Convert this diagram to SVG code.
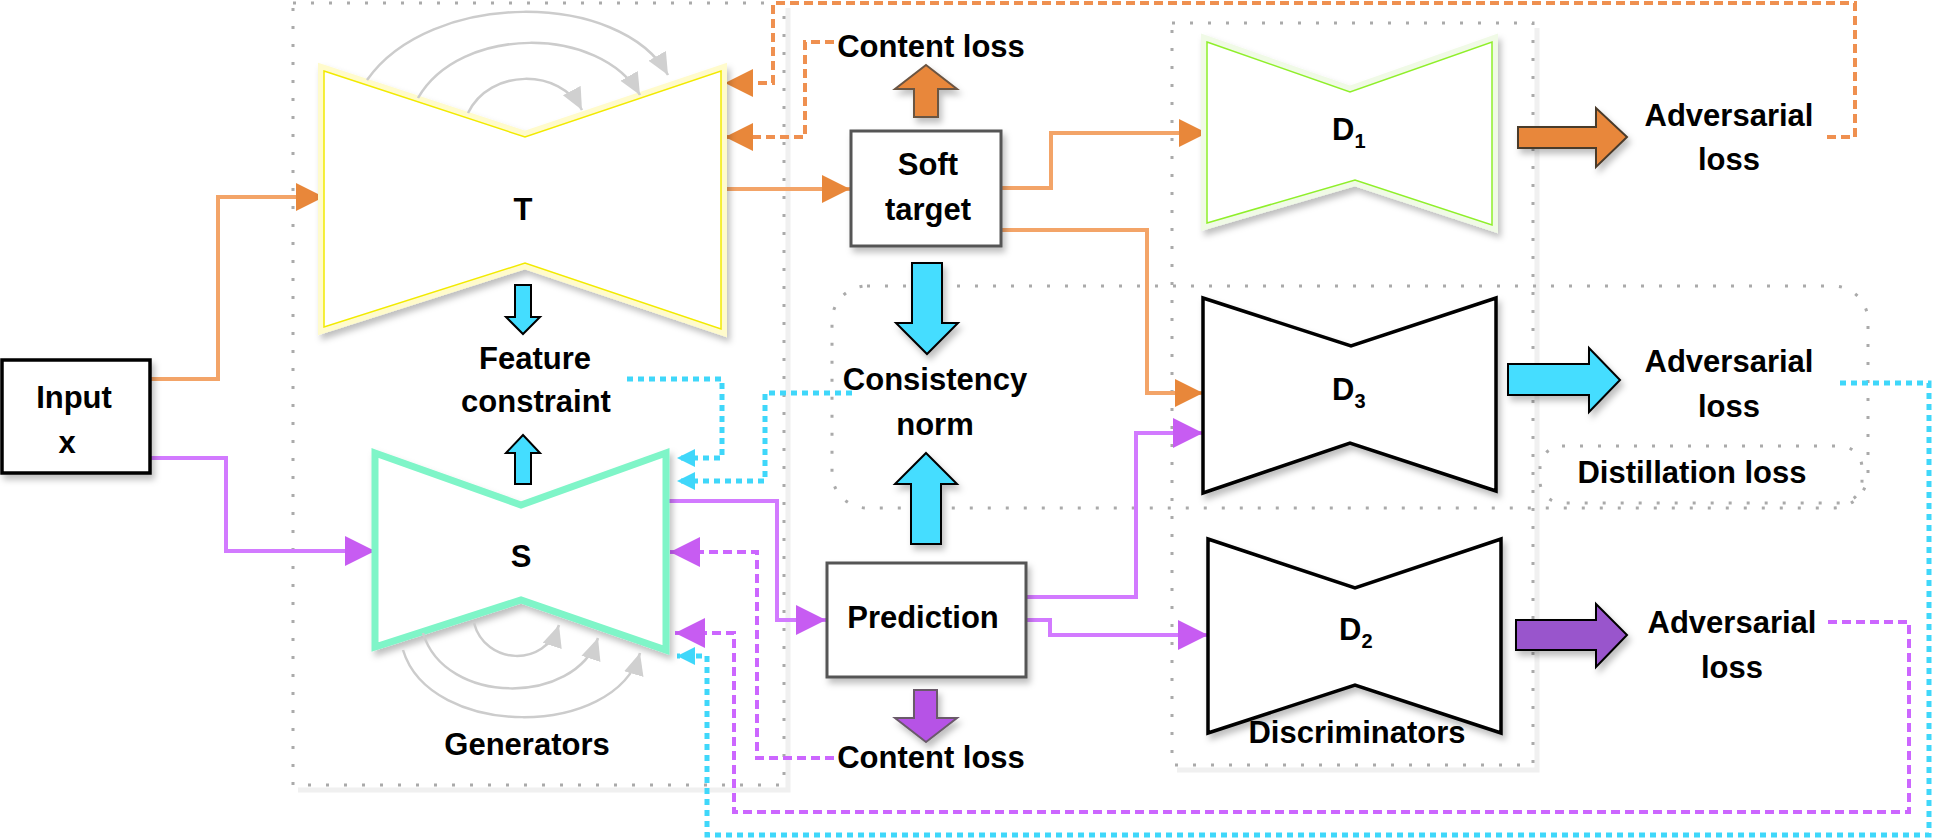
<svg xmlns="http://www.w3.org/2000/svg" width="1933" height="840" viewBox="0 0 1933 840">
<defs>
<style>
.t{font-family:"Liberation Sans",Arial,sans-serif;font-weight:bold;font-size:31px;fill:#000;text-anchor:middle}
.ts{text-anchor:start}
.grp{fill:none;stroke:#aaaaaa;stroke-width:3;stroke-dasharray:3 15}
.grpsh{fill:none;stroke:#f0f0f0;stroke-width:5}
.or{fill:none;stroke:#f3a468;stroke-width:4}
.pu{fill:none;stroke:#d27aff;stroke-width:4}
.ord{fill:none;stroke:#ef9050;stroke-width:4;stroke-dasharray:9 5}
.pud{fill:none;stroke:#cc66ff;stroke-width:4;stroke-dasharray:9 5}
.cyd{fill:none;stroke:#3fd7fa;stroke-width:5;stroke-dasharray:6 5}
.arc{fill:none;stroke:#cccccc;stroke-width:2.5}
.box{fill:#fff;stroke:#555;stroke-width:3}
.disc{fill:#fff;stroke:#000;stroke-width:3.5;stroke-linejoin:miter}
.cyb{fill:#44ddff;stroke:#000;stroke-width:2}
</style>
<filter id="sh" x="-10%" y="-10%" width="130%" height="130%">
<feDropShadow dx="3" dy="5" stdDeviation="3" flood-color="#000" flood-opacity="0.25"/>
</filter>
<marker id="aO" markerUnits="userSpaceOnUse" markerWidth="30" markerHeight="30" refX="28" refY="14" orient="auto"><path d="M0,0 L28,14 L0,28 Z" fill="#e8873a"/></marker>
<marker id="aP" markerUnits="userSpaceOnUse" markerWidth="32" markerHeight="32" refX="30" refY="15" orient="auto"><path d="M0,0 L30,15 L0,30 Z" fill="#c75cf2"/></marker>
<marker id="aC" markerUnits="userSpaceOnUse" markerWidth="20" markerHeight="20" refX="18" refY="9" orient="auto"><path d="M0,0 L18,9 L0,18 Z" fill="#3fd7fa"/></marker>
<marker id="aG" markerUnits="userSpaceOnUse" markerWidth="24" markerHeight="24" refX="22" refY="10" orient="auto"><path d="M0,0 L22,10 L0,20 Z" fill="#d0d0d0"/></marker>
</defs>
<rect width="1933" height="840" fill="#fff"/>

<g id="group-boxes">
<path class="grpsh" d="M788,8 V790 H298"/>
<rect class="grp" x="293" y="3" width="491" height="782"/>
<path class="grpsh" d="M1537,28 V770 H1177"/>
<rect class="grp" x="1172" y="23" width="361" height="742"/>
<rect class="grp" x="832" y="286" width="1036" height="222" rx="35"/>
<rect class="grp" x="1540" y="446" width="322" height="57" rx="22"/>
</g>

<g id="connectors">
<path class="or" d="M150,379 H218 V197 H324" marker-end="url(#aO)"/>
<path class="pu" d="M150,458 H226 V551 H375" marker-end="url(#aP)"/>
<path class="or" d="M721,189 H850" marker-end="url(#aO)"/>
<path class="or" d="M1001,188 H1051 V133 H1207" marker-end="url(#aO)"/>
<path class="or" d="M1001,230 H1147 V393 H1203" marker-end="url(#aO)"/>
<path class="pu" d="M667,501 H777 V620 H826" marker-end="url(#aP)"/>
<path class="pu" d="M1026,597 H1136 V433 H1203" marker-end="url(#aP)"/>
<path class="pu" d="M1026,620 H1050 V635 H1208" marker-end="url(#aP)"/>
<path class="ord" d="M1827,137 H1855 V3 H773 V83 H725" marker-end="url(#aO)"/>
<path class="ord" d="M834,42 H805 V137 H725" marker-end="url(#aO)"/>
<path class="cyd" d="M627,379 H722 V458 H677" marker-end="url(#aC)"/>
<path class="cyd" d="M852,393 H765 V481 H677" marker-end="url(#aC)"/>
<path class="cyd" d="M1840,383 H1929 V835 H707 V656 H677" marker-end="url(#aC)"/>
<path class="pud" d="M834,758 H757 V552 H670" marker-end="url(#aP)"/>
<path class="pud" d="M1828,622 H1909 V812 H734 V633 H675" marker-end="url(#aP)"/>
</g>

<g id="node-input">
<rect x="2" y="360" width="148" height="113" fill="#fff" stroke="#000" stroke-width="3.5" filter="url(#sh)"/>
<text class="t" x="74" y="408">Input</text>
<text class="t" x="67" y="453">x</text>
</g>

<g id="node-T">
<polygon points="324,71 525,137 721,71 721,329 525,263 324,327" fill="#fff" stroke="#fffbcc" stroke-width="12" filter="url(#sh)"/>
<polygon points="324,71 525,137 721,71 721,329 525,263 324,327" fill="#fff" stroke="#f2ea00" stroke-width="1.5"/>
<path class="arc" d="M367,80 C430,-10 620,-10 668,75" marker-end="url(#aG)"/>
<path class="arc" d="M418,98 C460,25 600,25 640,95" marker-end="url(#aG)"/>
<path class="arc" d="M468,113 C490,68 560,68 582,110" marker-end="url(#aG)"/>
<text class="t" x="523" y="220">T</text>
</g>

<g id="node-feature">
<polygon class="cyb" points="515,285 531,285 531,317 540,317 523,334 506,317 515,317"/>
<text class="t" x="535" y="369">Feature</text>
<text class="t" x="536" y="412">constraint</text>
<polygon class="cyb" points="523,435 540,453 531,453 531,484 515,484 515,453 506,453"/>
</g>

<g id="node-S">
<polygon points="375,453 521,505 666,453 666,650 521,600 375,647" fill="#fff" stroke="#7ff5c8" stroke-width="7" filter="url(#sh)"/>
<path class="arc" d="M474,623 C485,665 545,668 559,625" marker-end="url(#aG)"/>
<path class="arc" d="M423,633 C445,706 575,706 598,638" marker-end="url(#aG)"/>
<path class="arc" d="M403,650 C430,739 615,739 640,653" marker-end="url(#aG)"/>
<text class="t" x="521" y="567">S</text>
<text class="t" x="527" y="755">Generators</text>
</g>

<g id="node-soft-target">
<polygon points="926,65 957,89 938,89 938,117 914,117 914,89 895,89" fill="#e8873a" stroke="#6b5443" stroke-width="2" filter="url(#sh)"/>
<text class="t" x="931" y="57">Content loss</text>
<rect class="box" x="851" y="131" width="150" height="115" filter="url(#sh)"/>
<text class="t" x="928" y="175">Soft</text>
<text class="t" x="928" y="220">target</text>
</g>

<g id="node-consistency">
<polygon class="cyb" points="912,263 942,263 942,323 958,323 927,354 896,323 912,323" filter="url(#sh)"/>
<text class="t" x="935" y="390">Consistency</text>
<text class="t" x="935" y="435">norm</text>
<polygon class="cyb" points="926,453 957,484 941,484 941,544 911,544 911,484 895,484" filter="url(#sh)"/>
</g>

<g id="node-prediction">
<rect class="box" x="827" y="563" width="199" height="114" filter="url(#sh)"/>
<text class="t" x="923" y="628">Prediction</text>
<polygon points="914,690 937,690 937,718 957,718 926,742 895,718 914,718" fill="#b652e6" stroke="#6a5a6a" stroke-width="2" filter="url(#sh)"/>
<text class="t" x="931" y="768">Content loss</text>
</g>

<g id="node-D1">
<polygon points="1207,42 1350,92 1492,42 1492,225 1355,180 1207,223" fill="#fff" stroke="#f0fae6" stroke-width="12" filter="url(#sh)"/>
<polygon points="1207,42 1350,92 1492,42 1492,225 1355,180 1207,223" fill="#fff" stroke="#8fef2a" stroke-width="1.5"/>
<text class="t ts" x="1332" y="140">D<tspan font-size="20" dy="8">1</tspan></text>
</g>

<g id="node-D3">
<polygon class="disc" points="1203,298 1351,346 1496,298 1496,491 1350,443 1203,493" filter="url(#sh)"/>
<text class="t ts" x="1332" y="400">D<tspan font-size="20" dy="8">3</tspan></text>
</g>

<g id="node-D2">
<polygon class="disc" points="1208,539 1355,588 1501,539 1501,733 1355,685 1208,733" filter="url(#sh)"/>
<text class="t ts" x="1339" y="640">D<tspan font-size="20" dy="8">2</tspan></text>
<text class="t" x="1357" y="743">Discriminators</text>
</g>

<g id="node-adv1">
<polygon points="1518,127 1596,127 1596,108 1627,137 1596,167 1596,148 1518,148" fill="#e8873a" stroke="#4a3a2a" stroke-width="2" filter="url(#sh)"/>
<text class="t" x="1729" y="126">Adversarial</text>
<text class="t" x="1729" y="170">loss</text>
</g>

<g id="node-adv3">
<polygon class="cyb" points="1508,364 1589,364 1589,348 1620,380 1589,412 1589,395 1508,395" filter="url(#sh)"/>
<text class="t" x="1729" y="372">Adversarial</text>
<text class="t" x="1729" y="417">loss</text>
</g>

<g id="node-adv2">
<polygon points="1516,620 1596,620 1596,604 1627,635 1596,667 1596,650 1516,650" fill="#9955cc" stroke="#000" stroke-width="2" filter="url(#sh)"/>
<text class="t" x="1732" y="633">Adversarial</text>
<text class="t" x="1732" y="678">loss</text>
</g>

<g id="node-distillation">
<text class="t" x="1692" y="483">Distillation loss</text>
</g>
</svg>
